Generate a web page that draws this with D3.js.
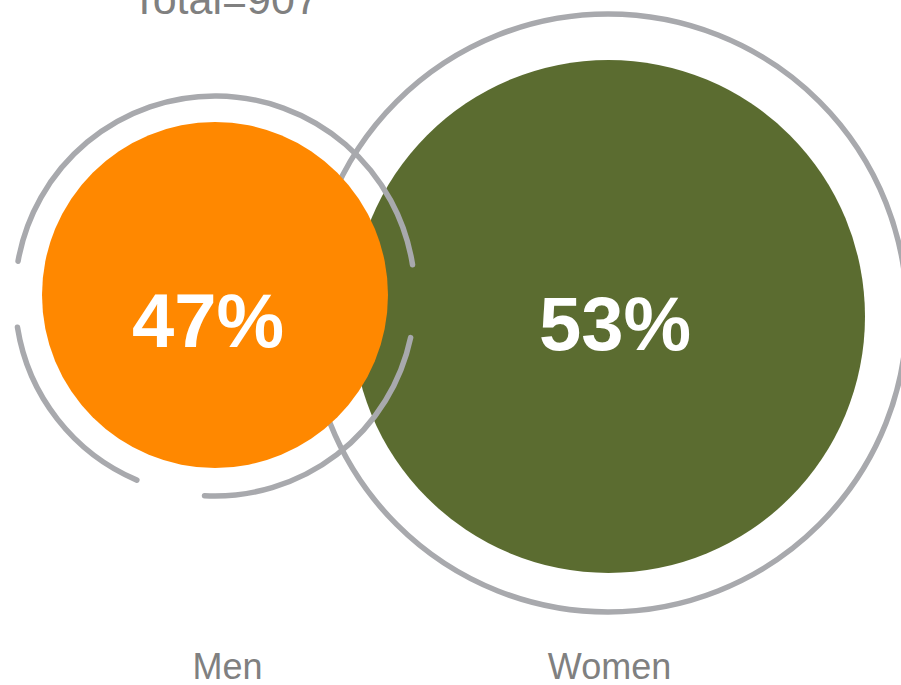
<!DOCTYPE html>
<html>
<head>
<meta charset="utf-8">
<script src="https://cdn.jsdelivr.net/npm/d3@7"></script>
<style>
  body { margin: 0; background: #fff; }
  svg { display: block; font-family: "Liberation Sans", Arial, sans-serif; }
</style>
</head>
<body>
<svg width="901" height="685"></svg>
<script>
var svg = d3.select("svg");

var width = 901,
    height = 685;

// data
var categories = ["Men", "Women"];
var shares = [47, 53];
var total = 907;
// ring pieces round each bubble, in degrees (0 = top, clockwise)
var ringPieces = [
    [[102, 183], [203, 261], [280, 441]],
    [[0, 360]]
];

var colors = ["#ff8800", "#5b6c30"];
var RINGGRAY = "#a8a9ad";
var TEXTGRAY = "#808080";

var x = d3.scalePoint()
    .domain(categories)
    .range([215, 608.5]);

var r = d3.scaleLinear()
    .domain(d3.extent(shares))
    .range([173, 256.5]);

var cy = d3.scaleLinear()
    .domain(d3.extent(shares))
    .range([295, 316.5]);

var rows = categories.map(function (c, i) {
    return { name: c, value: shares[i], color: colors[i], pieces: ringPieces[i] };
});

// ring radius and center sit a bit off the bubble
function ringR(d) { return r(d.value) + (d.name == "Men" ? 27 : 42.5); }
function ringY(d) { return cy(d.value) + (d.name == "Men" ? 1 : -3.5); }
function ringX(d) { return x(d.name) + (d.name == "Men" ? 0 : -0.5); }

function ringPath(d, p) {
    var path = d3.path();
    var a0 = (p[0] - 90) * Math.PI / 180,
        a1 = (p[1] - 90) * Math.PI / 180;
    var rr = ringR(d);
    path.moveTo(ringX(d) + rr * Math.cos(a0), ringY(d) + rr * Math.sin(a0));
    path.arc(ringX(d), ringY(d), rr, a0, a1);
    return path.toString();
}

function drawRing(d) {
    svg.append("g")
        .attr("class", "ring")
        .selectAll("path")
        .data(d.pieces)
        .enter().append("path")
        .attr("d", function (p) { return ringPath(d, p); })
        .attr("fill", "none")
        .attr("stroke", RINGGRAY)
        .attr("stroke-width", 5.5)
        .attr("stroke-linecap", "round");
}

function drawBubble(d) {
    svg.append("circle")
        .attr("cx", x(d.name))
        .attr("cy", cy(d.value))
        .attr("r", r(d.value))
        .attr("fill", d.color);
}

// women first, then men on top of it
var men = rows[0], women = rows[1];
drawRing(women);
drawBubble(women);
drawBubble(men);
drawRing(men);

// value labels
svg.selectAll("text.pct")
    .data(rows)
    .enter().append("text")
    .attr("class", "pct")
    .attr("x", function (d) { return x(d.name) + (d.name == "Men" ? -7 : 6.5); })
    .attr("y", function (d) { return cy(d.value) + (d.name == "Men" ? 52 : 33.5); })
    .attr("text-anchor", "middle")
    .attr("fill", "#fff")
    .attr("font-weight", "bold")
    .attr("font-size", 76)
    .text(function (d) { return d.value + "%"; });

// category labels
svg.selectAll("text.cat")
    .data(rows)
    .enter().append("text")
    .attr("class", "cat")
    .attr("x", function (d) { return x(d.name) + (d.name == "Men" ? 12.5 : 1); })
    .attr("y", 679)
    .attr("text-anchor", "middle")
    .attr("fill", TEXTGRAY)
    .attr("font-size", 36)
    .text(function (d) { return d.name; });

// title, clipped by the top edge
svg.append("text")
    .attr("x", 225)
    .attr("y", 13.5)
    .attr("text-anchor", "middle")
    .attr("fill", TEXTGRAY)
    .attr("font-size", 43)
    .text("Total=" + total);
</script>
</body>
</html>
